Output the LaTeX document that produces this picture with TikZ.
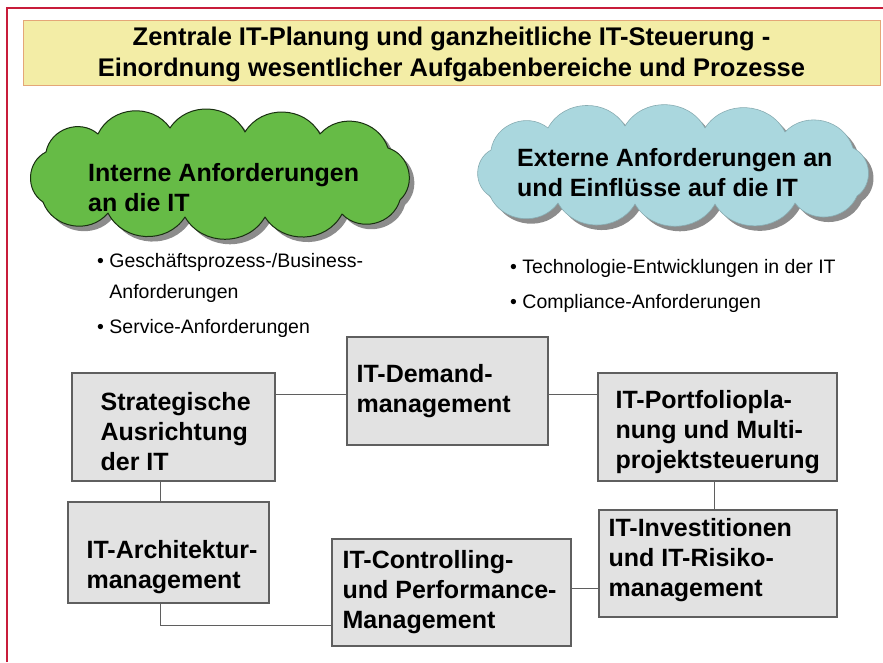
\documentclass[tikz,border=0pt]{standalone}
\usepackage{fontspec}
\setmainfont{Liberation Sans}
\usepackage{xcolor}
\usetikzlibrary{shadows,positioning}
\definecolor{framered}{RGB}{200,28,58}
\definecolor{titleyellow}{RGB}{243,237,166}
\definecolor{titleedge}{RGB}{228,166,120}
\definecolor{cloudgreen}{RGB}{102,187,70}
\definecolor{cloudblue}{RGB}{170,215,222}
\definecolor{boxgray}{RGB}{226,226,226}
\definecolor{linegray}{RGB}{95,95,95}

\begin{document}
\begin{tikzpicture}[x=1pt,y=-1pt,
              titlebox/.style={draw=titleedge, fill=titleyellow, line width=1pt},
              titletext/.style={align=center, inner sep=0pt, font=\fontsize{25.5}{31}\selectfont\bfseries},
              wolke/.style={line width=1pt, line join=round,
                            drop shadow={shadow xshift=5pt, shadow yshift=-5pt, fill=black!45, opacity=1}},
              beule/.style={bend left=60, looseness=1.1},
              aufgabe/.style={rectangle, draw=linegray, fill=boxgray, line width=1.2pt, inner sep=0pt},
              boxtext/.style={anchor=west, align=left, inner sep=0pt,
                              font=\fontsize{25}{30}\selectfont\bfseries},
              punkt/.style={anchor=west, align=left, inner sep=0pt,
                            font=\fontsize{19.5}{31}\selectfont},
              verbinder/.style={draw=linegray, line width=1pt},
             ]
\useasboundingbox (0,0) rectangle (883,662);
% Rahmen und Titel
\draw[framered, line width=2.5pt] (7,662) -- (7,8) -- (883,8);
\node[titlebox, minimum width=857pt, minimum height=65pt] (titel) at (451.5,52.5) {};
\node[titletext] (titeltext) at ([yshift=-2pt]titel.center)
  {Zentrale IT-Planung und ganzheitliche IT-Steuerung -\\Einordnung wesentlicher Aufgabenbereiche und Prozesse};

% Wolken
\draw[wolke, fill=cloudgreen, draw=black!75!cloudgreen]
  (43,202) to[beule] (46,152) to[beule] (98,134) to[beule] (170,128) to[beule] (245,132)
  to[beule] (320,134) to[beule] (388,148) to[beule] (400,200) to[beule] (342,214)
  to[beule] (265,217) to[beule] (185,217) to[beule] (108,213) to[beule] cycle;
\node[boxtext] (interntext) at (88,188) {Interne Anforderungen\\an die IT};
\draw[wolke, fill=cloudblue, draw=cloudblue!80!black, line width=0.6pt]
  (490,196) to[beule] (491,150) to[beule] (548,128) to[beule] (625,126) to[beule] (705,128)
  to[beule] (785,132) to[beule] (853,148) to[beule] (857,196) to[beule] (795,203)
  to[beule] (715,204) to[beule] (635,204) to[beule] (558,203) to[beule] cycle;
\node[boxtext] (externtext) at (517,173) {Externe Anforderungen an\\und Einflüsse auf die IT};

\node[punkt] (geschaeft) at (97,278) {\textbullet\ Geschäftsprozess-/Business-\\\phantom{\textbullet\ }Anforderungen};
\node[punkt] (service) at (97,328) {\textbullet\ Service-Anforderungen};
\node[punkt] (technik) at (510,268) {\textbullet\ Technologie-Entwicklungen in der IT};
\node[punkt] (compliance) at (510,303) {\textbullet\ Compliance-Anforderungen};

% Aufgabenbereiche
\node[aufgabe, minimum width=203pt, minimum height=108pt] (strat) at (173.5,427) {};
\node[aufgabe, minimum width=201pt, minimum height=108pt] (demand) at (447.5,391) {};
\node[aufgabe, minimum width=239pt, minimum height=108pt] (portfolio) at (717.5,427) {};
\node[aufgabe, minimum width=201pt, minimum height=101pt] (archi) at (168.5,552.5) {};
\node[aufgabe, minimum width=239pt, minimum height=107pt] (control) at (451.5,592.5) {};
\node[aufgabe, minimum width=238pt, minimum height=107pt] (invest) at (718,563.5) {};

\node[boxtext] (strattext) at ([xshift=29pt,yshift=-5pt]strat.west) {Strategische\\Ausrichtung\\der IT};
\node[boxtext] (demandtext) at ([xshift=10pt]demand.west) {IT-Demand-\\management};
\node[boxtext] (portfoliotext) at ([xshift=18pt,yshift=-5pt]portfolio.west) {IT-Portfoliopla-\\nung und Multi-\\projektsteuerung};
\node[boxtext] (architext) at ([xshift=19pt,yshift=-15pt]archi.west) {IT-Architektur-\\management};
\node[boxtext] (controltext) at ([xshift=11pt]control.west) {IT-Controlling-\\und Performance-\\Management};
\node[boxtext] (investtext) at ([xshift=10pt,yshift=3pt]invest.west) {IT-Investitionen\\und IT-Risiko-\\management};

% Verbindungen
\draw[verbinder] (strat.east |- 0,394) -- (demand.west |- 0,394);
\draw[verbinder] (demand.east |- 0,394) -- (portfolio.west |- 0,394);
\draw[verbinder] (strat.south -| 160,0) -- (archi.north -| 160,0);
\draw[verbinder] (archi.south -| 160,0) |- (control.west |- 0,625);
\draw[verbinder] (portfolio.south -| 714,0) -- (invest.north -| 714,0);
\draw[verbinder] (control.east |- 0,588) -- (invest.west |- 0,588);
\end{tikzpicture}
\end{document}
